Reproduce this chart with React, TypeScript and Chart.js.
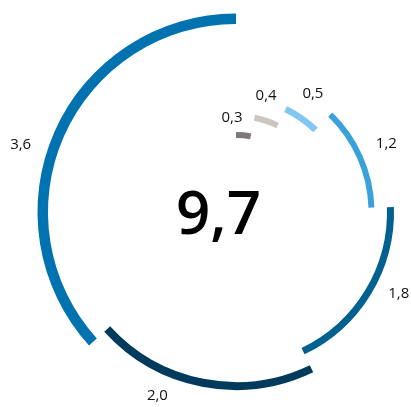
import React, { useEffect, useRef } from "react";
import { Chart, registerables } from "chart.js";

Chart.register(...registerables);

// Data (clockwise from 12 o'clock, innermost ring first)
const values = [0.3, 0.4, 0.5, 1.2, 1.8, 2.0, 3.6];
const valueLabels = ["0,3", "0,4", "0,5", "1,2", "1,8", "2,0", "3,6"];
const totalLabel = "9,7";

// Styles
const colors = ["#7d7775", "#cdc5bf", "#82c7ef", "#3ba1db", "#00608f", "#003a5c", "#0072af"];
const ringThickness = [6, 6, 6.5, 6, 7, 8, 10.5];
const gapOutside = [13, 12, 15, 12.5, 12, 10, 0]; // gap between ring i and the next outer ring
const labelFrac = [-0.22, 0.24, 0.4, 0.49, 0.43, 0.665, 0.45];
const labelOffset = [14, 21, 23.5, 26.5, 24, 22, 27];

export default function App() {
  const ref = useRef<HTMLCanvasElement | null>(null);

  useEffect(() => {
    const canvas = ref.current;
    if (!canvas) return;

    const datasets: any[] = [];
    const ringDatasetIndex: number[] = new Array(values.length);
    for (let i = values.length - 1; i >= 0; i--) {
      if (gapOutside[i] > 0) {
        datasets.push({
          data: values,
          backgroundColor: values.map(() => "rgba(0,0,0,0)"),
          borderWidth: 0,
          hoverBorderWidth: 0,
          weight: gapOutside[i],
        });
      }
      ringDatasetIndex[i] = datasets.length;
      datasets.push({
        data: values,
        backgroundColor: values.map((_, j) => (j === i ? colors[i] : "rgba(0,0,0,0)")),
        hoverBackgroundColor: values.map((_, j) => (j === i ? colors[i] : "rgba(0,0,0,0)")),
        borderWidth: 0,
        hoverBorderWidth: 0,
        weight: ringThickness[i],
      });
    }

    const labelPlugin = {
      id: "arcLabels",
      afterDraw(chart: any) {
        const ctx = chart.ctx;
        ctx.save();
        ctx.fillStyle = "#111";
        ctx.font = "15px 'Open Sans'";
        ctx.textAlign = "center";
        ctx.textBaseline = "middle";
        let cx = 0;
        let cy = 0;
        for (let i = 0; i < values.length; i++) {
          const meta = chart.getDatasetMeta(ringDatasetIndex[i]);
          const arc = meta.data[i];
          if (!arc) continue;
          cx = arc.x;
          cy = arc.y;
          const a = arc.startAngle + labelFrac[i] * (arc.endAngle - arc.startAngle);
          const r = arc.outerRadius + labelOffset[i];
          ctx.fillText(valueLabels[i], arc.x + r * Math.cos(a), arc.y + r * Math.sin(a));
        }
        ctx.fillStyle = "#000";
        ctx.font = "600 60px 'Open Sans'";
        ctx.textBaseline = "alphabetic";
        ctx.fillText(totalLabel, cx - 17.5, cy + 22);
        ctx.restore();
      },
    };

    const chart = new Chart(canvas, {
      type: "doughnut",
      data: { labels: valueLabels, datasets },
      options: {
        responsive: false,
        animation: false,
        devicePixelRatio: 1,
        cutout: 74,
        events: [],
        layout: { padding: { left: 37.5, right: 25.5, top: 13.5, bottom: 9.5 } },
        plugins: { legend: { display: false }, tooltip: { enabled: false } },
      } as any,
      plugins: [labelPlugin],
    });
    return () => chart.destroy();
  }, []);

  return (
    <div
      style={{
        position: "fixed",
        left: 0,
        top: 0,
        width: 411,
        height: 407,
        overflow: "hidden",
        background: "#fff",
      }}
    >
      <canvas
        ref={ref}
        width={460}
        height={420}
        style={{ position: "absolute", left: 0, top: 0, width: 460, height: 420 }}
      />
    </div>
  );
}
